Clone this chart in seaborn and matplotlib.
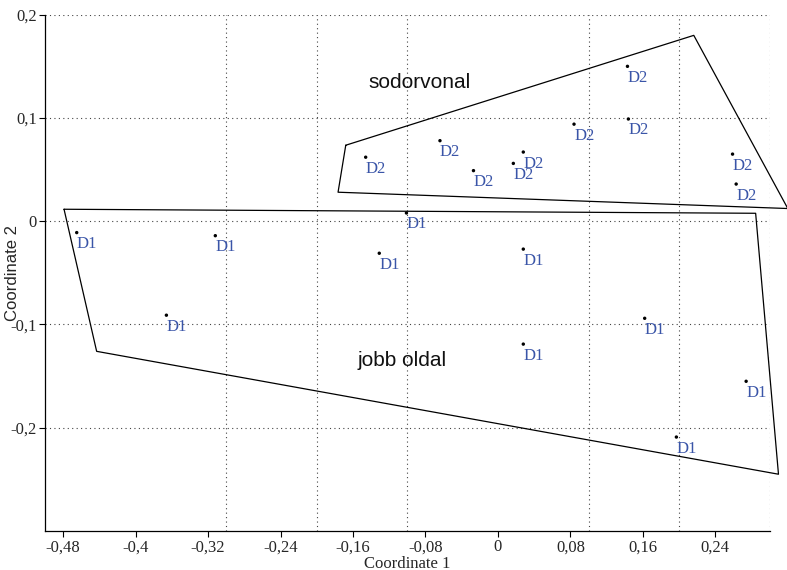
import matplotlib
matplotlib.use("Agg")
import matplotlib.pyplot as plt
import seaborn as sns
import pandas as pd
from matplotlib.ticker import FuncFormatter, FixedLocator

# ---- data ----
d1_x = [-0.465, -0.312, -0.366, -0.101, -0.131, 0.028, 0.028, 0.162, 0.274, 0.197]
d1_y = [-0.011, -0.014, -0.091, 0.008, -0.031, -0.027, -0.119, -0.094, -0.155, -0.209]
d2_x = [0.143, 0.144, 0.084, 0.259, 0.263, -0.146, -0.064, -0.027, 0.017, 0.028]
d2_y = [0.150, 0.099, 0.094, 0.065, 0.036, 0.062, 0.078, 0.049, 0.056, 0.067]

d1_hull_x = [-0.479, 0.2845, 0.3097, -0.443]
d1_hull_y = [0.0116, 0.0077, -0.245, -0.126]
d2_hull_x = [-0.168, 0.2162, 0.320, -0.1765]
d2_hull_y = [0.0736, 0.180, 0.0123, 0.0281]

group_names = ["jobb oldal", "sodorvonal"]
group_label_x = [-0.106, -0.086]
group_label_y = [-0.1346, 0.1346]

x_ticks = [-0.48, -0.40, -0.32, -0.24, -0.16, -0.08, 0.0, 0.08, 0.16, 0.24]
x_grid = [-0.4, -0.3, -0.2, -0.1, 0.0, 0.1, 0.2, 0.3]
y_ticks = [-0.2, -0.1, 0.0, 0.1, 0.2]

df = pd.DataFrame({
    "x": d1_x + d2_x,
    "y": d1_y + d2_y,
    "group": ["D1"] * len(d1_x) + ["D2"] * len(d2_x),
})

sns.set_style("white")
plt.rcParams["font.family"] = ["Liberation Serif", "DejaVu Serif"]

fig = plt.figure(figsize=(7.87, 5.70), dpi=100)
ax = fig.add_axes([0.0572, 0.0684, 0.9208, 0.9058])

sns.scatterplot(data=df, x="x", y="y", color="black", s=6, edgecolor="none",
                legend=False, ax=ax, zorder=3)

for _, r in df.iterrows():
    ax.annotate(r["group"], (r["x"], r["y"]), xytext=(0, -2.5),
                textcoords="offset points", ha="left", va="top",
                color="#3a55a8", fontsize=12, family="Liberation Serif")

for hx, hy in [(d1_hull_x, d1_hull_y), (d2_hull_x, d2_hull_y)]:
    ax.plot(hx + hx[:1], hy + hy[:1], color="black", lw=0.9, clip_on=False, zorder=2)

for name, gx, gy in zip(group_names, group_label_x, group_label_y):
    ax.text(gx, gy, name, ha="center", va="center", fontsize=15,
            family="Liberation Sans", color="#111111")

ax.set_xlim(-0.5, 0.3)
ax.set_ylim(-0.3, 0.2)

ax.xaxis.set_major_locator(FixedLocator(x_ticks))
ax.xaxis.set_minor_locator(FixedLocator(x_grid))
ax.yaxis.set_major_locator(FixedLocator(y_ticks))

fmt = FuncFormatter(lambda v, p: ("%g" % round(v, 2)).replace(".", ","))
ax.xaxis.set_major_formatter(fmt)
ax.yaxis.set_major_formatter(fmt)

ax.grid(False)
ax.grid(True, which="minor", axis="x", linestyle=(0, (1, 3)), color="#444444", lw=0.8)
ax.grid(True, which="major", axis="y", linestyle=(0, (1, 3)), color="#444444", lw=0.8)

ax.tick_params(axis="both", which="major", direction="out", length=4, width=0.8,
               labelsize=12, color="black", bottom=True, left=True, pad=2)
ax.tick_params(axis="x", which="minor", length=0)

for s in ["top", "right"]:
    ax.spines[s].set_visible(False)
for s in ["left", "bottom"]:
    ax.spines[s].set_color("black")
    ax.spines[s].set_linewidth(0.9)

ax.set_xlabel("Coordinate 1", fontsize=12, family="Liberation Serif", va="center")
ax.xaxis.set_label_coords(0.5, -0.063)
ax.set_ylabel("Coordinate 2", fontsize=12, family="Liberation Sans", va="center")
ax.yaxis.set_label_coords(-0.045, 0.5)

fig.savefig("out.png", dpi=100)
